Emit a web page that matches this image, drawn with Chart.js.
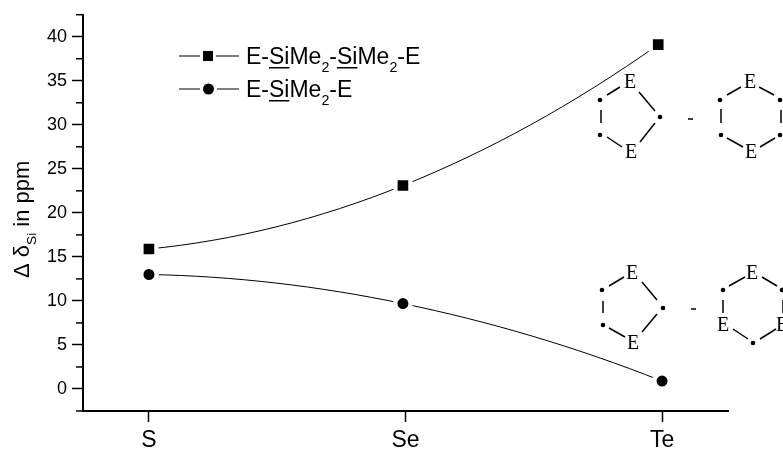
<!DOCTYPE html>
<html>
<head>
<meta charset="utf-8">
<style>
html, body { margin: 0; padding: 0; background: #fff; }
canvas { display: block; }
</style>
<script src="https://cdn.jsdelivr.net/npm/chart.js@4"></script>
</head>
<body>
<canvas id="chart" width="783" height="451"></canvas>
<script>
const categories = ['S', 'Se', 'Te'];
const disilaneX = [0, 0.99, 1.985];
const disilaneValues = [15.9, 23.1, 39.1];
const silaneX = [0, 0.99, 2];
const silaneValues = [13.0, 9.7, 0.9];

const sans = '"Liberation Sans", Arial, sans-serif';
const serif = '"Liberation Serif", serif';
const ink = '#000';

function toPoints(xs, ys){
    return xs.map((x, i) => ({ x: x, y: ys[i] }));
}

// draws text runs one after another, with subscript and underline
function drawRuns(ctx, runs, x, y, size){
    ctx.textAlign = 'left';
    ctx.textBaseline = 'alphabetic';
    runs.forEach(run => {
        const small = run.sub ? size * 0.62 : size;
        ctx.font = small + 'px ' + sans;
        const w = ctx.measureText(run.t).width;
        const dy = run.sub ? size * 0.33 : 0;
        ctx.fillText(run.t, x, y + dy);
        if(run.u){
            ctx.fillRect(x, y + 3, w, 1.5);
        }
        x += w;
    });
}

function bonds(ctx, list){
    ctx.beginPath();
    list.forEach(b => {
        ctx.moveTo(b[0], b[1]);
        ctx.lineTo(b[2], b[3]);
    });
    ctx.stroke();
}

function dots(ctx, list){
    list.forEach(d => {
        ctx.beginPath();
        ctx.arc(d[0], d[1], 2.3, 0, Math.PI * 2);
        ctx.fill();
    });
}

function letters(ctx, list){
    ctx.font = '20px ' + serif;
    ctx.textAlign = 'center';
    ctx.textBaseline = 'middle';
    list.forEach(l => ctx.fillText('E', l[0], l[1]));
}

// the default spline bends the wrong way at the end points, the original is
// a smooth arc through the three points, so set the handles for that
const arcCurves = {
    id: 'arcCurves',
    beforeDatasetsDraw(chart){
        chart.data.datasets.forEach((ds, i) => {
            const line = chart.getDatasetMeta(i).dataset;
            line.updateControlPoints(chart.chartArea);
            const [a, b, c] = line.points;
            const d = (c.x - a.x) / 2;
            const s0 = (-3 * a.y + 4 * b.y - c.y) / (2 * d);
            const s1 = (c.y - a.y) / (2 * d);
            const s2 = (a.y - 4 * b.y + 3 * c.y) / (2 * d);
            const h1 = (b.x - a.x) / 3;
            const h2 = (c.x - b.x) / 3;
            a.cp2x = a.x + h1;
            a.cp2y = a.y + s0 * h1;
            b.cp1x = b.x - h1;
            b.cp1y = b.y - s1 * h1;
            b.cp2x = b.x + h2;
            b.cp2y = b.y + s1 * h2;
            c.cp1x = c.x - h2;
            c.cp1y = c.y - s2 * h2;
        });
    }
};

const decorations = {
    id: 'decorations',
    afterDraw(chart){
        const ctx = chart.ctx;
        const yScale = chart.scales.y;
        ctx.save();
        ctx.fillStyle = ink;
        ctx.strokeStyle = ink;

        // short ticks between the labelled ones
        ctx.lineWidth = 1.5;
        yScale.ticks.forEach(t => {
            if(t.value % 5 !== 0){
                const py = yScale.getPixelForValue(t.value);
                ctx.beginPath();
                ctx.moveTo(76, py);
                ctx.lineTo(83, py);
                ctx.stroke();
            }
        });

        // axis title
        ctx.save();
        ctx.translate(29, 278);
        ctx.rotate(-Math.PI / 2);
        drawRuns(ctx, [{ t: 'Δ δ' }, { t: 'Si', sub: true }, { t: ' in ppm' }], 0, 0, 22);
        ctx.restore();

        // legend
        ctx.lineWidth = 1;
        ctx.beginPath();
        ctx.moveTo(179, 56); ctx.lineTo(200, 56);
        ctx.moveTo(216, 56); ctx.lineTo(239, 56);
        ctx.moveTo(179, 89); ctx.lineTo(200, 89);
        ctx.moveTo(217, 89); ctx.lineTo(239, 89);
        ctx.stroke();
        ctx.fillRect(203, 51, 10, 10);
        ctx.beginPath();
        ctx.arc(208.5, 89, 5.5, 0, Math.PI * 2);
        ctx.fill();
        drawRuns(ctx, [
            { t: 'E-' }, { t: 'Si', u: true }, { t: 'Me' }, { t: '2', sub: true },
            { t: '-' }, { t: 'Si', u: true }, { t: 'Me' }, { t: '2', sub: true }, { t: '-E' }
        ], 246, 64, 23);
        drawRuns(ctx, [
            { t: 'E-' }, { t: 'Si', u: true }, { t: 'Me' }, { t: '2', sub: true }, { t: '-E' }
        ], 246, 97, 23);

        // ring schemes, upper pair
        ctx.lineWidth = 1.5;
        letters(ctx, [[630, 83], [631, 153], [750, 83], [751, 153]]);
        dots(ctx, [[600, 100], [600, 135], [660, 117], [720, 100], [721, 135], [780, 100], [780, 135]]);
        bonds(ctx, [
            [607, 95, 620, 87], [639, 92, 655, 111], [601, 110, 601, 123], [607, 137, 622, 147], [640, 142, 655, 123],
            [727, 95, 741, 87], [759, 87, 774, 95], [721, 109, 721, 123], [727, 138, 743, 147], [760, 147, 775, 138], [781, 110, 781, 123],
            [688, 119, 693, 119]
        ]);

        // ring schemes, lower pair
        letters(ctx, [[632, 274], [633, 344], [752, 274], [723, 326], [782, 326]]);
        dots(ctx, [[602, 290], [603, 325], [663, 308], [723, 290], [782, 290], [753, 343]]);
        bonds(ctx, [
            [609, 286, 624, 277], [642, 282, 657, 300], [603, 301, 603, 313], [609, 328, 625, 337], [642, 332, 657, 314],
            [729, 286, 745, 277], [762, 277, 777, 286], [723, 300, 723, 313], [733, 329, 748, 339], [760, 339, 776, 329], [783, 300, 783, 313],
            [691, 309, 696, 309]
        ]);
        ctx.restore();
    }
};

new Chart(document.getElementById('chart'), {
    type: 'scatter',
    data: {
        datasets: [
            {
                label: 'E-SiMe2-SiMe2-E',
                data: toPoints(disilaneX, disilaneValues),
                showLine: true,
                tension: 0.4,
                borderColor: ink,
                borderWidth: 1,
                pointStyle: 'rect',
                pointRadius: 10.5,
                pointBorderWidth: 4.2,
                pointBackgroundColor: ink,
                pointBorderColor: '#fff'
            },
            {
                label: 'E-SiMe2-E',
                data: toPoints(silaneX, silaneValues),
                showLine: true,
                tension: 0.4,
                borderColor: ink,
                borderWidth: 1,
                pointStyle: 'circle',
                pointRadius: 7.75,
                pointBorderWidth: 4.5,
                pointBackgroundColor: ink,
                pointBorderColor: '#fff'
            }
        ]
    },
    options: {
        responsive: false,
        animation: false,
        layout: { padding: { top: 13, right: 55, left: 0, bottom: 0 } },
        plugins: {
            legend: { display: false },
            tooltip: { enabled: false }
        },
        scales: {
            x: {
                type: 'linear',
                min: -0.257,
                max: 2.257,
                afterBuildTicks: axis => {
                    axis.ticks = categories.map((c, i) => ({ value: i }));
                },
                afterFit: axis => { axis.height = 40; },
                border: { display: true, color: ink, width: 2 },
                grid: { drawOnChartArea: false, drawTicks: true, tickLength: 11, tickColor: ink, tickWidth: 1.5 },
                ticks: {
                    maxRotation: 0,
                    padding: 5,
                    color: ink,
                    font: { family: sans, size: 23 },
                    callback: value => categories[value]
                }
            },
            y: {
                min: -2.5,
                max: 42.5,
                afterFit: axis => {
                    axis.width = 83;
                    axis.paddingTop = 0;
                    axis.paddingBottom = 0;
                },
                border: { display: true, color: ink, width: 2 },
                grid: {
                    drawOnChartArea: false,
                    drawTicks: true,
                    tickLength: 11,
                    tickWidth: 1.5,
                    tickColor: c => (c.tick.value % 5 === 0 ? ink : 'rgba(0,0,0,0)')
                },
                ticks: {
                    stepSize: 2.5,
                    autoSkip: false,
                    padding: 5,
                    color: ink,
                    font: { family: sans, size: 18 },
                    callback: value => (value % 5 === 0 ? String(value) : '')
                }
            }
        }
    },
    plugins: [arcCurves, decorations]
});
</script>
</body>
</html>
